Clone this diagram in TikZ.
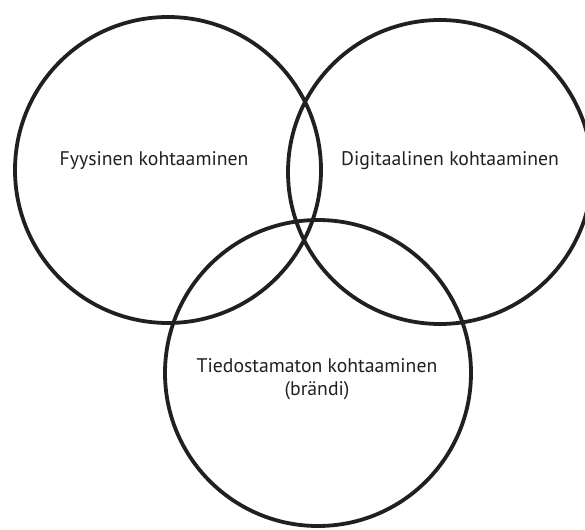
\documentclass[tikz,border=0pt]{standalone}
\usepackage{fontspec}
\setmainfont{PT Sans}
\definecolor{ink}{HTML}{231F20}
\begin{document}
\begin{tikzpicture}[x=1pt,y=-1pt,
  ring/.style={circle,draw=ink,line width=3.8pt,minimum size=306pt,inner sep=0pt},
  label/.style={text=ink,font=\fontsize{19.7}{23}\selectfont,align=center,inner sep=0pt}]
  \useasboundingbox (0,0) rectangle (585,529);
  \begin{scope}
    \clip (0,0) rectangle (585,529);
    \node[ring] (phys) at (168,170) {};
    \node[ring,minimum size=304pt] (digi) at (440,172) {};
    \node[ring] (brand) at (318,373) {};
  \end{scope}
  \node[label] (physT) at (154,161) {Fyysinen kohtaaminen};
  \node[label] (digiT) at (450,161) {Digitaalinen kohtaaminen};
  \node[label] (brandT) at (317,379) {Tiedostamaton kohtaaminen\\(brändi)};
\end{tikzpicture}
\end{document}
